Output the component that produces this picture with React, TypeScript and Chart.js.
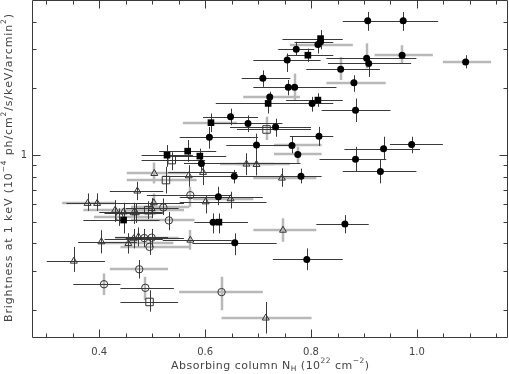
import { useEffect, useRef } from "react";
import { Chart, registerables } from "chart.js";

Chart.register(...registerables);

// Row: [x, y, xLow, xHigh, yLow, yHigh, hBarGray, vBarGray]
type Row = number[];

const filledCircles: Row[] = [
  [0.907, 4.03, 0.86, 0.953, 3.63, 4.42, 0, 0],
  [0.974, 4.03, 0.907, 1.04, 3.63, 4.42, 0, 0],
  [0.772, 3.0, 0.738, 0.806, 2.82, 3.24, 0, 0],
  [0.755, 2.68, 0.691, 0.818, 2.37, 2.87, 0, 0],
  [0.813, 3.15, 0.76, 0.879, 2.87, 3.41, 1, 0],
  [0.818, 3.24, 0.769, 0.842, 3.0, 3.45, 0, 0],
  [0.905, 2.73, 0.829, 0.999, 2.46, 3.19, 0, 1],
  [0.909, 2.59, 0.832, 0.989, 2.25, 2.73, 0, 0],
  [0.972, 2.82, 0.92, 1.03, 2.59, 3.13, 1, 1],
  [1.092, 2.63, 1.049, 1.14, 2.46, 2.82, 1, 0],
  [0.856, 2.44, 0.791, 0.93, 2.18, 2.77, 0, 1],
  [0.881, 2.12, 0.829, 0.941, 1.93, 2.29, 1, 0],
  [0.884, 1.595, 0.82, 0.95, 1.41, 1.8, 0, 0],
  [0.709, 2.22, 0.669, 0.761, 2.03, 2.41, 0, 0],
  [0.757, 2.02, 0.691, 0.823, 1.86, 2.18, 0, 0],
  [0.769, 2.02, 0.715, 0.848, 1.77, 2.33, 0, 1],
  [0.722, 1.83, 0.672, 0.779, 1.71, 1.93, 1, 0],
  [0.802, 1.71, 0.709, 0.842, 1.57, 1.83, 0, 0],
  [0.648, 1.49, 0.596, 0.7, 1.365, 1.62, 0, 0],
  [0.681, 1.39, 0.614, 0.746, 1.27, 1.51, 0, 0],
  [0.733, 1.34, 0.647, 0.8, 1.21, 1.46, 0, 0],
  [0.608, 1.205, 0.552, 0.7, 1.07, 1.34, 0, 0],
  [0.815, 1.218, 0.76, 0.842, 1.1, 1.34, 0, 0],
  [0.697, 1.11, 0.64, 0.76, 1.0, 1.25, 0, 0],
  [0.764, 1.106, 0.73, 0.82, 1.02, 1.21, 1, 0],
  [0.775, 1.007, 0.73, 0.82, 0.918, 1.09, 1, 1],
  [0.99, 1.117, 0.949, 1.049, 1.02, 1.21, 0, 0],
  [0.937, 1.068, 0.863, 1.006, 0.95, 1.21, 0, 0],
  [0.884, 0.959, 0.816, 0.942, 0.841, 1.09, 0, 0],
  [0.931, 0.844, 0.86, 0.999, 0.746, 0.95, 0, 0],
  [0.593, 0.917, 0.56, 0.78, 0.856, 1.0, 0, 0],
  [0.655, 0.804, 0.574, 0.721, 0.746, 0.856, 0, 0],
  [0.781, 0.804, 0.691, 0.82, 0.746, 0.87, 0, 0],
  [0.625, 0.649, 0.552, 0.709, 0.595, 0.72, 0, 0],
  [0.615, 0.499, 0.58, 0.681, 0.444, 0.546, 0, 0],
  [0.656, 0.403, 0.576, 0.735, 0.354, 0.444, 0, 0],
  [0.864, 0.489, 0.81, 0.909, 0.444, 0.537, 0, 0],
  [0.792, 0.339, 0.728, 0.86, 0.303, 0.38, 0, 0],
];

const filledSquares: Row[] = [
  [0.818, 3.35, 0.746, 0.86, 3.07, 3.66, 0, 0],
  [0.794, 2.82, 0.754, 0.842, 2.63, 3.02, 0, 0],
  [0.719, 1.71, 0.62, 0.82, 1.54, 1.83, 0, 0],
  [0.813, 1.77, 0.753, 0.86, 1.65, 1.9, 0, 0],
  [0.611, 1.4, 0.558, 0.66, 1.27, 1.54, 1, 0],
  [0.528, 1.0, 0.48, 0.577, 0.886, 1.11, 0, 0],
  [0.567, 1.042, 0.513, 0.621, 0.933, 1.17, 0, 0],
  [0.59, 0.99, 0.54, 0.64, 0.886, 1.07, 0, 0],
  [0.626, 0.499, 0.58, 0.681, 0.444, 0.546, 0, 0],
  [0.446, 0.51, 0.37, 0.514, 0.444, 0.565, 0, 0],
];

const openTriangles: Row[] = [
  [0.678, 0.911, 0.628, 0.73, 0.813, 1.02, 1, 0],
  [0.697, 0.908, 0.66, 0.76, 0.81, 1.02, 1, 0],
  [0.504, 0.827, 0.452, 0.565, 0.746, 0.927, 1, 1],
  [0.569, 0.807, 0.52, 0.62, 0.72, 0.901, 0, 0],
  [0.596, 0.836, 0.53, 0.66, 0.733, 0.917, 0, 0],
  [0.745, 0.788, 0.691, 0.81, 0.72, 0.871, 1, 0],
  [0.472, 0.689, 0.42, 0.521, 0.627, 0.758, 0, 0],
  [0.378, 0.606, 0.33, 0.432, 0.561, 0.672, 1, 0],
  [0.396, 0.606, 0.338, 0.451, 0.561, 0.672, 0, 0],
  [0.503, 0.61, 0.45, 0.56, 0.537, 0.672, 0, 1],
  [0.601, 0.616, 0.552, 0.716, 0.546, 0.66, 0, 0],
  [0.648, 0.636, 0.577, 0.691, 0.575, 0.684, 1, 0],
  [0.43, 0.565, 0.37, 0.49, 0.5, 0.627, 1, 0],
  [0.446, 0.555, 0.4, 0.52, 0.497, 0.61, 0, 0],
  [0.465, 0.55, 0.41, 0.52, 0.49, 0.61, 0, 0],
  [0.469, 0.55, 0.43, 0.51, 0.495, 0.605, 1, 0],
  [0.499, 0.575, 0.45, 0.55, 0.52, 0.64, 0, 0],
  [0.404, 0.407, 0.36, 0.471, 0.361, 0.459, 0, 0],
  [0.455, 0.4, 0.4, 0.54, 0.36, 0.445, 1, 0],
  [0.465, 0.42, 0.41, 0.52, 0.38, 0.465, 0, 0],
  [0.474, 0.4285, 0.43, 0.53, 0.388, 0.472, 0, 0],
  [0.572, 0.414, 0.52, 0.65, 0.375, 0.46, 0, 1],
  [0.352, 0.333, 0.301, 0.411, 0.298, 0.386, 0, 0],
  [0.747, 0.459, 0.691, 0.81, 0.407, 0.519, 1, 1],
  [0.7145, 0.1845, 0.631, 0.801, 0.157, 0.218, 1, 0],
];

const openCircles: Row[] = [
  [0.572, 0.66, 0.49, 0.65, 0.585, 0.72, 0, 1],
  [0.521, 0.581, 0.46, 0.57, 0.537, 0.638, 1, 0],
  [0.5315, 0.508, 0.46, 0.58, 0.459, 0.555, 1, 0],
  [0.485, 0.423, 0.43, 0.55, 0.385, 0.465, 1, 0],
  [0.499, 0.4245, 0.45, 0.56, 0.385, 0.465, 0, 0],
  [0.495, 0.386, 0.44, 0.57, 0.355, 0.415, 1, 0],
  [0.4755, 0.306, 0.42, 0.53, 0.278, 0.337, 1, 0],
  [0.409, 0.262, 0.351, 0.44, 0.234, 0.293, 0, 1],
  [0.487, 0.2525, 0.44, 0.541, 0.222, 0.283, 0, 1],
  [0.631, 0.2415, 0.551, 0.709, 0.2, 0.283, 1, 1],
  [0.438, 0.527, 0.39, 0.5, 0.48, 0.575, 1, 0],
];

const openSquares: Row[] = [
  [0.537, 0.95, 0.48, 0.6, 0.856, 1.03, 0, 0],
  [0.526, 0.772, 0.452, 0.584, 0.672, 0.886, 1, 0],
  [0.4925, 0.565, 0.43, 0.56, 0.515, 0.62, 1, 0],
  [0.495, 0.218, 0.44, 0.549, 0.197, 0.246, 0, 0],
  [0.716, 1.305, 0.66, 0.8, 1.17, 1.49, 0, 1],
];

const xMajorTicks = [0.4, 0.6, 0.8, 1.0];
const xTickLabels = ["0.4", "0.6", "0.8", "1.0"];
const xMinorTicks = [0.3, 0.35, 0.45, 0.5, 0.55, 0.65, 0.7, 0.75, 0.85, 0.9, 0.95, 1.05, 1.1, 1.15];
const yMajorTicks = [1];
const yTickLabels = ["1"];
const yMinorTicks = [0.2, 0.3, 0.4, 0.5, 0.6, 0.7, 0.8, 0.9, 2, 3, 4];

const X_MIN = 0.273;
const X_MAX = 1.172;
const Y_MIN = 0.15;
const Y_MAX = 5;

type Seg = [string, number];
const xTitle: Seg[] = [
  ["Absorbing column N", 0],
  ["H", -1],
  [" (10", 0],
  ["22", 1],
  [" cm", 0],
  ["\u22122", 1],
  [")", 0],
];
const yTitle: Seg[] = [
  ["Brightness at 1 keV (10", 0],
  ["\u22124", 1],
  [" ph/cm", 0],
  ["2", 1],
  ["/s/keV/arcmin", 0],
  ["2", 1],
  [")", 0],
];

const DARK = "#3a3a3a";
const LIGHT = "#b8b8b8";
const TEXT = "#444";
const FONT = '"DejaVu Sans", sans-serif';

function drawRich(ctx: CanvasRenderingContext2D, segs: Seg[], cx: number, cy: number, size: number, target: number) {
  const small = size * 0.68;
  let natural = 0;
  let count = 0;
  for (const [t, k] of segs) {
    ctx.font = `${k === 0 ? size : small}px ${FONT}`;
    for (const ch of t) {
      natural += ctx.measureText(ch).width;
      count++;
    }
  }
  const ls = count > 1 ? (target - natural) / (count - 1) : 0;
  let x = cx - target / 2;
  ctx.textBaseline = "middle";
  ctx.textAlign = "left";
  for (const [t, k] of segs) {
    ctx.font = `${k === 0 ? size : small}px ${FONT}`;
    const dy = k === 1 ? -size * 0.42 : k === -1 ? size * 0.28 : 0;
    for (const ch of t) {
      ctx.fillText(ch, x, cy + dy);
      x += ctx.measureText(ch).width + ls;
    }
  }
}

const allSeries = [filledCircles, filledSquares, openTriangles, openCircles, openSquares];

const errorBarPlugin = {
  id: "errorBars",
  beforeDatasetsDraw(chart: any) {
    const { ctx, chartArea, scales } = chart;
    const xs = scales.x;
    const ys = scales.y;
    ctx.save();
    ctx.beginPath();
    ctx.rect(chartArea.left, chartArea.top, chartArea.right - chartArea.left, chartArea.bottom - chartArea.top);
    ctx.clip();
    for (const pass of [1, 0]) {
      ctx.strokeStyle = pass ? LIGHT : DARK;
      ctx.lineWidth = pass ? 2.5 : 1;
      const off = pass ? 0 : 0.5;
      for (const rows of allSeries) {
        for (const r of rows) {
          const [vx, vy, xl, xh, yl, yh, hg, vg] = r;
          const px = Math.round(xs.getPixelForValue(vx)) + off;
          const py = Math.round(ys.getPixelForValue(vy)) + off;
          ctx.beginPath();
          if (hg === pass) {
            ctx.moveTo(xs.getPixelForValue(xl), py);
            ctx.lineTo(xs.getPixelForValue(xh), py);
          }
          if (vg === pass) {
            ctx.moveTo(px, ys.getPixelForValue(yh));
            ctx.lineTo(px, ys.getPixelForValue(yl));
          }
          ctx.stroke();
        }
      }
    }
    ctx.restore();
  },
};

const framePlugin = {
  id: "frame",
  afterDatasetsDraw(chart: any) {
    const { ctx, chartArea, scales } = chart;
    const xs = scales.x;
    const ys = scales.y;
    const L = chartArea.left + 0.5;
    const R = chartArea.right - 0.5;
    const T = chartArea.top + 0.5;
    const B = chartArea.bottom - 0.5;
    ctx.save();
    ctx.strokeStyle = DARK;
    ctx.lineWidth = 1;
    ctx.beginPath();
    ctx.rect(L, T, R - L, B - T);
    ctx.stroke();
    ctx.beginPath();
    const xt = (v: number, len: number) => {
      const p = Math.round(xs.getPixelForValue(v)) + 0.5;
      ctx.moveTo(p, B);
      ctx.lineTo(p, B - len);
      ctx.moveTo(p, T);
      ctx.lineTo(p, T + len);
    };
    const yt = (v: number, len: number) => {
      const p = Math.round(ys.getPixelForValue(v)) + 0.5;
      ctx.moveTo(L, p);
      ctx.lineTo(L + len, p);
      ctx.moveTo(R, p);
      ctx.lineTo(R - len, p);
    };
    xMajorTicks.forEach((v) => xt(v, 8));
    xMinorTicks.forEach((v) => xt(v, 4));
    yMajorTicks.forEach((v) => yt(v, 8));
    yMinorTicks.forEach((v) => yt(v, 4));
    ctx.stroke();

    ctx.fillStyle = TEXT;
    ctx.font = `10px ${FONT}`;
    ctx.textAlign = "center";
    ctx.textBaseline = "middle";
    xMajorTicks.forEach((v, i) => {
      ctx.fillText(xTickLabels[i], xs.getPixelForValue(v), 352);
    });
    ctx.textAlign = "right";
    yMajorTicks.forEach((v, i) => {
      ctx.fillText(yTickLabels[i], 27, ys.getPixelForValue(v));
    });

    drawRich(ctx, xTitle, (chartArea.left + chartArea.right) / 2, 366, 11, 198);

    ctx.save();
    ctx.translate(9, 168);
    ctx.rotate(-Math.PI / 2);
    drawRich(ctx, yTitle, 0, 0, 11, 308);
    ctx.restore();
    ctx.restore();
  },
};

export default function App() {
  const ref = useRef<HTMLCanvasElement | null>(null);
  useEffect(() => {
    const canvas = ref.current;
    if (!canvas) return;
    const toPts = (rows: Row[]) => rows.map((r) => ({ x: r[0], y: r[1] }));
    const chart = new Chart(canvas, {
      type: "scatter",
      data: {
        datasets: [
          {
            data: toPts(filledCircles),
            pointStyle: "circle",
            pointRadius: 3.5,
            backgroundColor: "#000",
            borderColor: "#000",
            borderWidth: 0,
          },
          {
            data: toPts(filledSquares),
            pointStyle: "rect",
            pointRadius: 4.7,
            backgroundColor: "#000",
            borderColor: "#000",
            borderWidth: 0,
          },
          {
            data: toPts(openTriangles),
            pointStyle: "triangle",
            pointRadius: 4,
            backgroundColor: "rgba(0,0,0,0)",
            borderColor: "#333",
            borderWidth: 1,
          },
          {
            data: toPts(openCircles),
            pointStyle: "circle",
            pointRadius: 3.7,
            backgroundColor: "rgba(0,0,0,0)",
            borderColor: "#333",
            borderWidth: 1,
          },
          {
            data: toPts(openSquares),
            pointStyle: "rect",
            pointRadius: 5.3,
            backgroundColor: "rgba(0,0,0,0)",
            borderColor: "#333",
            borderWidth: 1,
          },
        ],
      },
      options: {
        animation: false,
        responsive: false,
        maintainAspectRatio: false,
        events: [],
        layout: { autoPadding: false, padding: { left: 32, right: 1, top: 0, bottom: 36 } },
        scales: {
          x: { type: "linear", min: X_MIN, max: X_MAX, display: false },
          y: { type: "logarithmic", min: Y_MIN, max: Y_MAX, display: false },
        },
        plugins: { legend: { display: false }, tooltip: { enabled: false } },
      },
      plugins: [errorBarPlugin, framePlugin],
    } as any);
    return () => chart.destroy();
  }, []);
  return (
    <div style={{ position: "absolute", left: 0, top: 0, width: 509, height: 374, background: "#fff" }}>
      <canvas ref={ref} width={509} height={374} style={{ display: "block", width: 509, height: 374 }} />
    </div>
  );
}
